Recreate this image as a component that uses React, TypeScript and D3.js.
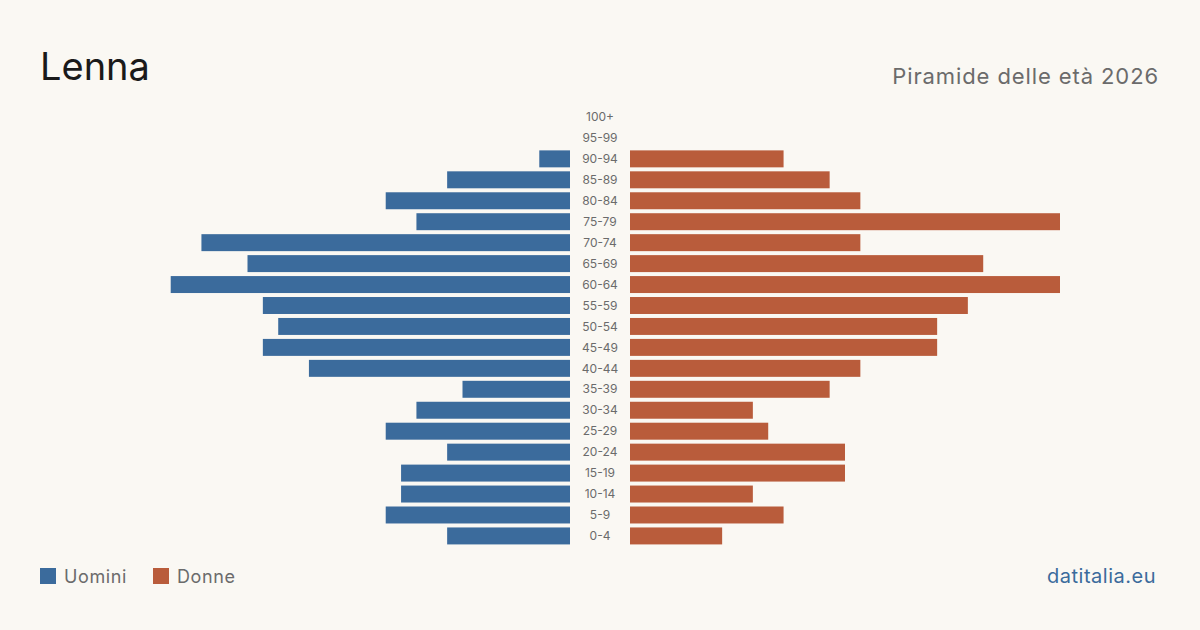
import React, { useRef, useEffect } from "react";
import * as d3 from "d3";

// Age classes, oldest first (top of the pyramid)
const ageGroups = [
  "100+", "95-99", "90-94", "85-89", "80-84", "75-79", "70-74", "65-69",
  "60-64", "55-59", "50-54", "45-49", "40-44", "35-39", "30-34", "25-29",
  "20-24", "15-19", "10-14", "5-9", "0-4",
];
const men = [0, 0, 2, 8, 12, 10, 24, 21, 26, 20, 19, 20, 17, 7, 10, 12, 8, 11, 11, 12, 8];
const women = [0, 0, 10, 13, 15, 28, 15, 23, 28, 22, 20, 20, 15, 13, 8, 9, 14, 14, 8, 10, 6];

const BLUE = "#3b6b9c";
const RED = "#b95c3b";
const BG = "#faf8f3";
const FONT = "Inter, 'Noto Sans', sans-serif";

const App: React.FC = () => {
  const svgRef = useRef<SVGSVGElement>(null);

  useEffect(() => {
    document.body.style.margin = "0";
    document.body.style.background = BG;
    if (!svgRef.current) return;
    const width = 1200;
    const height = 630;
    const svg = d3.select(svgRef.current);
    svg.selectAll("*").remove();

    svg.append("rect").attr("width", width).attr("height", height).attr("fill", BG);

    const max = d3.max([...men, ...women]) as number;
    const xLeft = d3.scaleLinear().domain([0, max]).range([570, 140]);
    const xRight = d3.scaleLinear().domain([0, max]).range([630, 1060]);
    const y = d3.scaleBand().domain(ageGroups).range([104.5, 548.4]).padding(0.19);

    svg
      .append("g")
      .selectAll("rect")
      .data(ageGroups)
      .join("rect")
      .attr("x", (_, i) => xLeft(men[i]))
      .attr("y", (d) => y(d)!)
      .attr("width", (_, i) => xLeft(0) - xLeft(men[i]))
      .attr("height", y.bandwidth())
      .attr("fill", BLUE);

    svg
      .append("g")
      .selectAll("rect")
      .data(ageGroups)
      .join("rect")
      .attr("x", xRight(0))
      .attr("y", (d) => y(d)!)
      .attr("width", (_, i) => xRight(women[i]) - xRight(0))
      .attr("height", y.bandwidth())
      .attr("fill", RED);

    svg
      .append("g")
      .selectAll("text")
      .data(ageGroups)
      .join("text")
      .attr("x", 600)
      .attr("y", (d) => y(d)! + y.bandwidth() / 2)
      .attr("dy", "0.35em")
      .attr("text-anchor", "middle")
      .attr("font-family", FONT)
      .attr("font-size", 12)
      .attr("fill", "#6b6b6b")
      .text((d) => d);

    // Title and subtitle
    svg
      .append("text")
      .attr("x", 40)
      .attr("y", 80)
      .attr("font-family", FONT)
      .attr("font-size", 38)
      .attr("fill", "#1a1a1a")
      .text("Lenna");
    svg
      .append("text")
      .attr("x", 1159)
      .attr("y", 84)
      .attr("text-anchor", "end")
      .attr("font-family", FONT)
      .attr("font-size", 22)
      .attr("letter-spacing", 0.9)
      .attr("fill", "#6b6b6b")
      .text("Piramide delle età 2026");

    // Legend
    const legend = [
      { label: "Uomini", color: BLUE, x: 40 },
      { label: "Donne", color: RED, x: 153 },
    ];
    const lg = svg.append("g").selectAll("g").data(legend).join("g");
    lg.append("rect")
      .attr("x", (d) => d.x)
      .attr("y", 568)
      .attr("width", 16)
      .attr("height", 16)
      .attr("fill", (d) => d.color);
    lg.append("text")
      .attr("x", (d) => d.x + 24)
      .attr("y", 583)
      .attr("font-family", FONT)
      .attr("font-size", 18)
      .attr("letter-spacing", 0.6)
      .attr("fill", "#6b6b6b")
      .text((d) => d.label);

    svg
      .append("text")
      .attr("x", 1156)
      .attr("y", 583)
      .attr("text-anchor", "end")
      .attr("font-family", FONT)
      .attr("font-size", 20)
      .attr("letter-spacing", 0.5)
      .attr("fill", BLUE)
      .text("datitalia.eu");
  }, []);

  return <svg ref={svgRef} width={1200} height={630} style={{ display: "block" }} />;
};

export default App;
